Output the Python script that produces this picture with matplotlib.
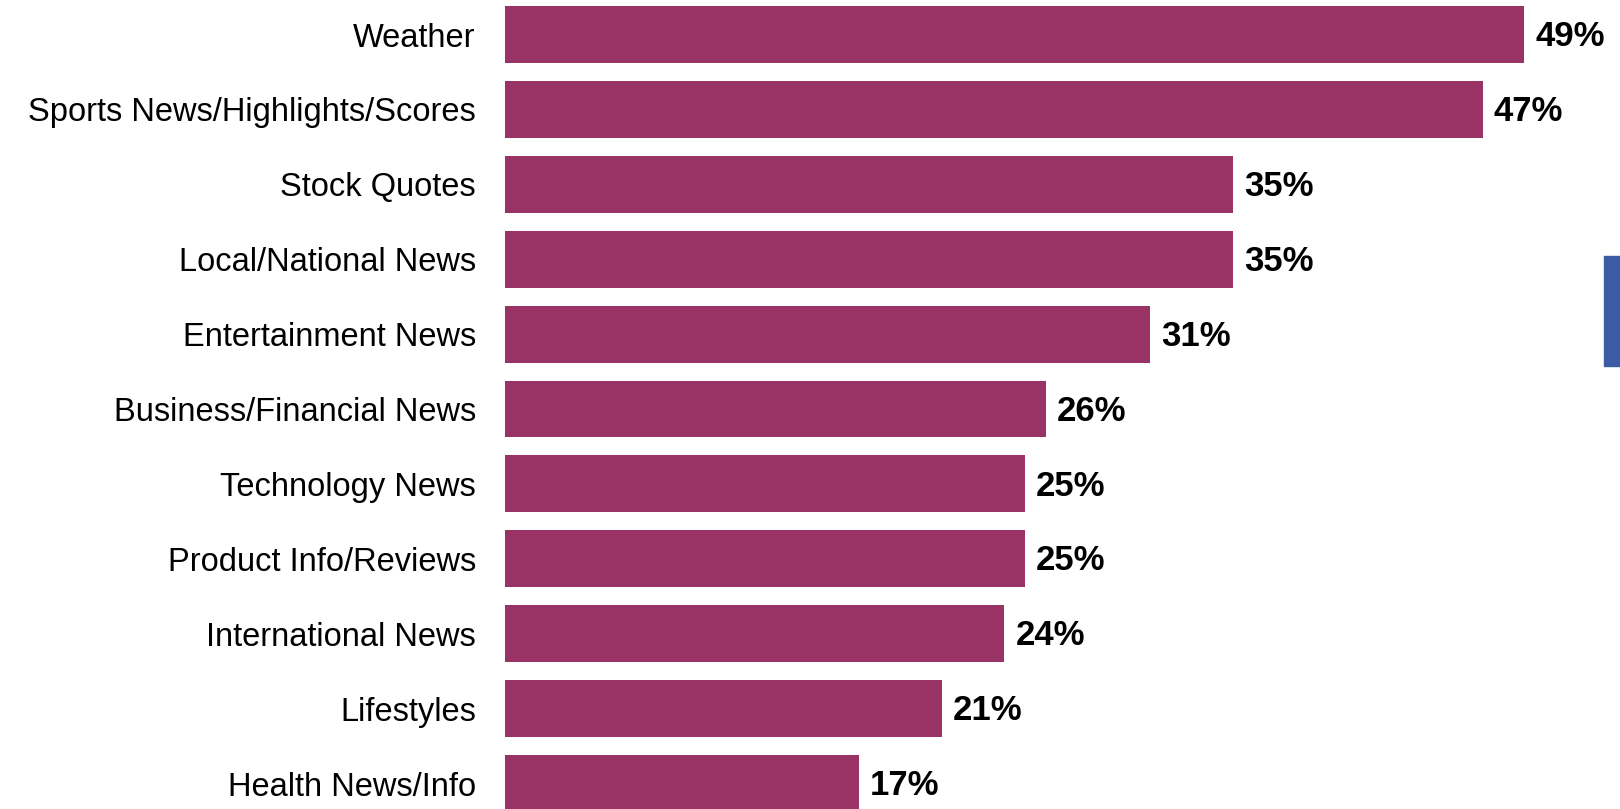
import matplotlib.pyplot as plt
import matplotlib.patches as mpatches

categories = ['Weather', 'Sports News/Highlights/Scores', 'Stock Quotes', 'Local/National News',
              'Entertainment News', 'Business/Financial News', 'Technology News',
              'Product Info/Reviews', 'International News', 'Lifestyles', 'Health News/Info']
values = [49, 47, 35, 35, 31, 26, 25, 25, 24, 21, 17]

fig = plt.figure(figsize=(16.2, 8.09), dpi=100)
ax = fig.add_axes([505 / 1620, 0, 1 - 505 / 1620, 1])

pos = list(range(len(categories)))
ax.barh(pos, values, height=0.76, color='#993366')
ax.set_xlim(0, 1115 / 20.8)
ax.set_ylim(10.34, -0.461)

ax.set_yticks(pos)
ax.set_yticklabels(categories, fontsize=23.5, family='Liberation Sans')
ax.tick_params(axis='y', length=0, pad=21)
ax.set_xticks([])
for s in ax.spines.values():
    s.set_visible(False)

for p, v in zip(pos, values):
    ax.annotate(f'{v}%', (v, p), xytext=(8, -1.5), textcoords='offset points',
                va='center', ha='left', fontsize=25, fontweight='bold',
                family='Liberation Sans')

# blue marker at right edge
fig.patches.append(mpatches.Rectangle((1604 / 1620, 1 - 366 / 809), 16 / 1620, 110 / 809,
                                      transform=fig.transFigure, color='#3B5BA5'))

fig.savefig('out.png', dpi=100)
